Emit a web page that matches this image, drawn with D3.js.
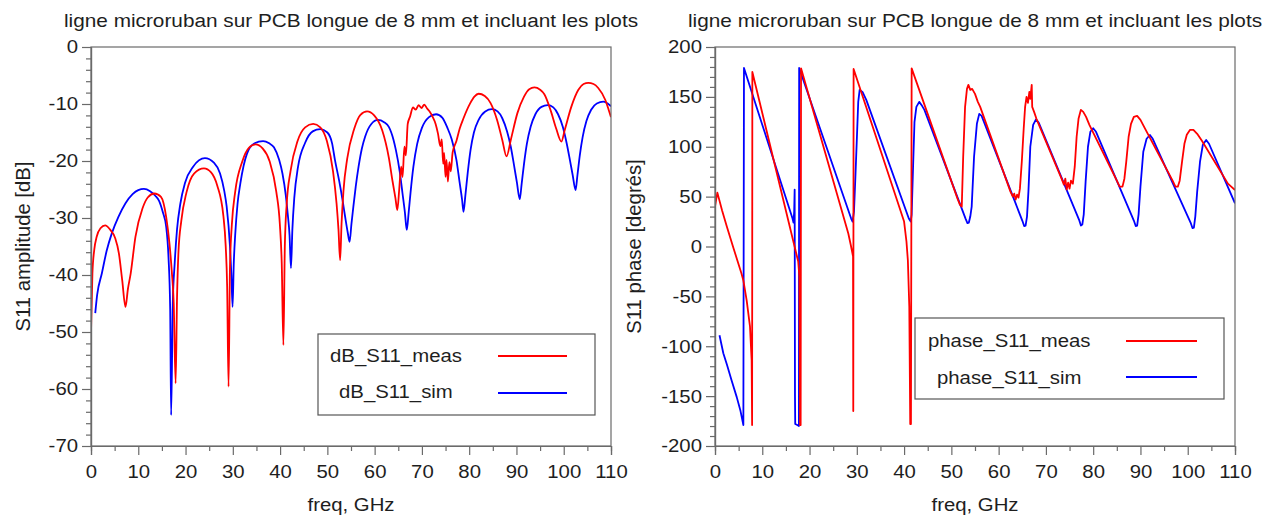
<!DOCTYPE html>
<html>
<head>
<meta charset="utf-8">
<script src="https://cdn.jsdelivr.net/npm/d3@7"></script>
<style>
  body { margin: 0; background: #fff; }
  svg { display: block; }
  text { font-family: "Liberation Sans", Arial, sans-serif; fill: #1e1e1e; }
</style>
</head>
<body>
<svg id="chart" width="1266" height="520"></svg>
<script>
// ---------------- data ----------------
const titleText = "ligne microruban sur PCB longue de 8 mm et incluant les plots";
const xLabelText = "freq, GHz";
const yLabelAmp = "S11 amplitude [dB]";
const yLabelPhase = "S11 phase [degrés]";
const legendAmp = ["dB_S11_meas", "dB_S11_sim"];
const legendPhase = ["phase_S11_meas", "phase_S11_sim"];

const freqMajor = [0, 10, 20, 30, 40, 50, 60, 70, 80, 90, 100, 110];
const freqMinor = [5, 15, 25, 35, 45, 55, 65, 75, 85, 95, 105];
const dbMajor = [0, -10, -20, -30, -40, -50, -60, -70];
const dbMinor = [-2,-4,-6,-8,-12,-14,-16,-18,-22,-24,-26,-28,-32,-34,-36,-38,-42,-44,-46,-48,-52,-54,-56,-58,-62,-64,-66,-68];
const phaseMajor = [200, 150, 100, 50, 0, -50, -100, -150, -200];
const phaseMinor = [190,180,170,160,140,130,120,110,90,80,70,60,40,30,20,10,-10,-20,-30,-40,-60,-70,-80,-90,-110,-120,-130,-140,-160,-170,-180,-190];

// [freq GHz, dB]
const dbMeas = [
  [0,-50],[0.3,-39.7],[0.7,-35.5],[1.2,-33.3],[2.0,-31.8],[3.0,-31.3],[4.0,-32.0],[5.1,-33.5],[5.9,-36.2],[6.6,-40.9],[7.3,-45.6],
  [7.8,-42.5],[8.4,-39.7],[9.4,-33.3],[10.9,-28.3],[12.0,-26.4],[13.4,-25.7],[14.8,-26.3],[15.9,-29.8],[16.6,-34.5],[17.1,-39.5],[17.5,-45],[17.9,-59],
  [18.2,-44],[18.5,-36],[19.1,-30.5],[20.2,-25.5],[21.8,-22.2],[23.9,-21.3],[25.4,-22],[26.7,-24.3],[28.0,-29.6],[28.5,-35],[28.8,-42],[29.1,-59.6],
  [29.4,-38.5],[29.8,-31.1],[30.5,-25.4],[32.0,-20.1],[33.4,-17.7],[34.8,-17.1],[36.3,-17.8],[37.8,-20.1],[39.2,-25.4],[39.95,-31.1],[40.35,-38],[40.7,-52.3],
  [41.0,-35],[41.4,-27.5],[42.2,-21.8],[43.7,-16.5],[45.3,-14.1],[47.0,-13.5],[48.5,-14.1],[49.9,-16.5],[51.2,-21.8],[51.95,-27.5],[52.35,-32],[52.7,-37.4],
  [53.0,-31],[53.4,-25.3],[54.2,-19.6],[55.7,-14.3],[57.0,-11.9],[58.4,-11.3],[59.9,-12.0],[61.6,-14.6],[63.0,-19.4],[63.8,-23.6],[64.4,-26.5],[64.8,-28.6],
  [65.2,-25],[65.6,-21],[65.9,-22.8],[66.3,-17.5],[66.6,-19],[67.0,-13.5],[67.5,-12.2],[68.1,-10.6],[68.7,-11.0],[69.3,-10.2],[69.9,-10.7],[70.5,-10.1],
  [71.1,-10.8],[71.7,-11.4],[72.3,-12.3],[72.9,-13.5],[73.4,-15.2],[73.9,-17.4],[74.2,-16.2],[74.5,-20.5],[74.7,-18.6],[75.0,-22.8],[75.2,-19.8],[75.5,-23.6],
  [75.8,-20.2],[76.1,-21.8],[76.5,-18.5],[77.3,-16.5],[78.0,-14.3],[78.8,-12.5],[80.2,-9.9],[81.1,-8.7],[82.0,-8.2],[83.3,-8.6],[84.5,-9.8],[85.9,-12.8],[87.0,-16.3],[87.9,-19.2],
  [88.8,-16.3],[90.2,-11.6],[91.6,-8.7],[92.7,-7.4],[93.8,-7.1],[95.0,-7.5],[95.9,-8.3],[97.3,-11.3],[98.4,-14.3],[99.5,-16.6],
  [100.2,-14.6],[101.6,-10.5],[103.1,-7.5],[104.2,-6.5],[105.2,-6.3],[106.3,-6.5],[107.3,-7.2],[108.8,-9.3],[109.5,-11.0],[110,-12.3]
];
const dbSim = [
  [0.9,-46.7],[1.3,-43.5],[2.3,-39.7],[3.3,-35.8],[4.4,-32.7],[5.8,-29.8],[7.3,-27.4],[8.8,-25.8],[10.0,-25.1],[11.2,-24.9],[12.5,-25.3],[13.6,-26.1],
  [14.4,-27.0],[15.2,-29],[15.9,-31.5],[16.4,-37],[16.75,-46],[16.95,-64.6],
  [17.3,-45],[17.7,-38],[18.2,-32],[18.9,-27.5],[19.9,-23.8],[21.6,-21.0],[24.1,-19.5],[26.0,-20.3],[27.3,-22.2],[28.2,-25.3],[28.7,-28],[29.4,-35],[29.7,-40],[29.95,-45.6],
  [30.2,-38],[30.5,-33],[31.0,-27.5],[31.6,-23.9],[33.0,-18.7],[34.6,-16.9],[36.4,-16.5],[37.7,-16.9],[38.7,-17.6],[39.8,-19.8],[40.5,-22.2],[41.2,-26],[41.6,-29.2],[42.0,-33],[42.3,-38.8],
  [42.6,-32],[43.0,-26.5],[43.8,-21.0],[45.3,-16.8],[46.9,-14.8],[48.5,-14.4],[50.0,-15.0],[51.0,-16.9],[51.6,-19.8],[52.5,-23.5],[53.2,-26.8],[53.8,-30],[54.3,-32.5],[54.7,-34.2],
  [55.1,-31],[55.5,-28],[56.0,-24.5],[56.6,-21],[57.3,-17.8],[58.0,-15.7],[59.3,-13.5],[60.7,-12.8],[62.0,-13.2],[63.0,-14.0],[64.0,-16.3],[64.5,-18.1],[65.3,-21.8],[65.9,-25.7],[66.4,-29],[66.8,-32.1],
  [67.2,-29],[67.6,-25.5],[68.2,-21],[69.0,-17],[70.0,-14.2],[71.5,-12.3],[73.0,-11.8],[74.3,-12.4],[75.4,-14.2],[76.3,-16.2],[77.3,-19.8],[78.0,-23.9],[78.5,-26.8],[78.8,-28.9],
  [79.2,-26],[79.7,-22],[80.3,-18],[81.0,-15],[82.0,-12.8],[83.4,-11.3],[84.8,-10.9],[86.0,-11.3],[87.0,-12.5],[88.0,-14.8],[88.8,-17.5],[89.5,-20.8],[90.1,-23.8],[90.7,-26.7],
  [91.1,-24],[91.6,-20.5],[92.2,-17],[93.0,-14],[94.0,-11.8],[95.3,-10.5],[96.6,-10.2],[97.8,-10.6],[98.8,-11.8],[99.8,-14],[100.6,-16.8],[101.3,-19.8],[101.9,-22.5],[102.5,-25.1],
  [102.9,-22.5],[103.4,-19],[104.0,-15.8],[104.8,-13],[105.8,-11],[107.0,-9.9],[108.4,-9.6],[109.3,-9.9],[110,-10.4]
];
// [freq GHz, degrees]
const phaseMeas = [
  [0,40],[0.5,54],[1.5,36],[2.5,20],[3.9,-1.5],[4.6,-12],[5.6,-27],[6.0,-34],[6.7,-54],[7.4,-80],[7.75,-114],[7.85,-179],[7.9,175],
  [17.6,-15],[17.85,-30],[18.0,-179],[18.12,-179],[18.2,178.6],
  [28.2,13],[28.7,2],[29.0,-5],[29.2,-10],[29.25,-165],[29.32,178],
  [40.0,25],[40.5,5],[40.8,-14],[41.1,-60],[41.3,-178],[41.45,-178],[41.6,178.6],
  [51.3,48],[51.8,42],[52.2,40],[52.5,90],[52.9,140],[53.3,158],[53.6,162],[54.0,157],[54.4,158],[55.0,153],[55.6,145],[56.1,140],
  [62.5,55],[63.0,50],[63.3,53],[63.6,47],[63.9,52],[64.2,49],[64.5,58],[64.9,85],[65.3,118],[65.6,140],[65.9,150],[66.2,144],[66.5,155],[66.7,148],[67.0,162],[67.1,140],[67.5,135],[68.0,128],
  [73.4,67],[73.8,62],[74.1,68],[74.4,57],[74.7,64],[75.0,58],[75.3,66],[75.7,63],[76.1,80],[76.5,110],[76.9,128],[77.4,137],[77.9,135],[78.5,130],[79.2,122],
  [85.0,66],[85.6,60],[86.2,60],[86.6,68],[87.0,85],[87.5,110],[88.0,123],[88.6,130],[89.3,131],[90.0,127],[91.0,118],
  [96.8,66],[97.4,60],[97.9,60],[98.3,66],[98.8,85],[99.3,103],[99.8,112],[100.5,117],[101.2,117],[102.0,113],[103.0,106],
  [108.5,63],[109.2,60],[110,56.6]
];
const phaseSim = [
  [0.95,-89],[1.76,-107],[2.5,-118],[3.5,-134],[4.6,-151],[5.4,-165],[6.0,-179],[6.13,179],
  [16.4,28],[16.6,24],[16.75,35],[16.85,57],[16.92,-150],[16.97,-178],[17.4,-179],[17.75,-180],[17.8,179],
  [28.8,28],[29.1,25],[29.4,35],[29.7,70],[30.0,107],[30.3,145],[30.6,157],[31.2,155],[32.0,147],
  [41.0,28],[41.4,25],[41.6,32],[41.9,80],[42.2,125],[42.6,140],[43.2,145],[43.8,141],[44.3,137],
  [53.0,28],[53.4,23.5],[53.7,24],[54.0,30],[54.3,40],[54.8,90],[55.4,123],[55.9,133],[56.4,131],
  [65.0,26],[65.4,20.5],[65.7,21],[66.0,30],[66.3,55],[66.7,100],[67.3,122],[67.9,127.5],[68.5,124],
  [77.0,27],[77.4,21],[77.7,22],[78.0,32],[78.4,65],[78.9,100],[79.4,115],[80.0,118.5],[80.6,115],
  [88.6,26],[89.0,20.5],[89.3,21],[89.6,32],[90.0,60],[90.6,95],[91.3,108],[92.0,111.8],[92.6,108],
  [100.6,24],[101.0,18.5],[101.3,19],[101.6,30],[102.0,55],[102.6,85],[103.2,102],[103.9,106.8],[104.5,103],
  [110,43.3]
];

// ---------------- drawing ----------------
const svg = d3.select("#chart");
const FS = 18.5, SX = 1.1;
const measColor = "#ff0000", simColor = "#0000ff";

function stretchTicks(sel) {
  sel.selectAll(".tick text").each(function () {
    const t = d3.select(this);
    const x = +t.attr("x") || 0, y = +t.attr("y") || 0;
    t.attr("x", 0).attr("y", 0)
     .attr("transform", `translate(${x},${y}) scale(${SX},1)`);
  });
}

function addText(g, x, y, str, opts = {}) {
  return g.append("text")
    .attr("transform", `translate(${x},${y})${opts.rotate ? " rotate(" + opts.rotate + ")" : ""} scale(${opts.sx || SX},1)`)
    .attr("text-anchor", opts.anchor || "start")
    .style("font-size", (opts.size || FS) + "px")
    .text(str);
}

function panel(cfg) {
  const x = d3.scaleLinear().domain([0, 110]).range([cfg.left, cfg.right]);
  const y = d3.scaleLinear().domain(cfg.yDomain).range([cfg.bottom, cfg.top]);
  const g = svg.append("g");

  const clipId = "clip" + cfg.id;
  g.append("clipPath").attr("id", clipId).append("rect")
    .attr("x", cfg.left).attr("y", cfg.top)
    .attr("width", cfg.right - cfg.left).attr("height", cfg.bottom - cfg.top);

  // series
  const line = d3.line().x(d => x(d[0])).y(d => y(d[1])).curve(cfg.curve);
  const lg = g.append("g").attr("clip-path", `url(#${clipId})`);
  lg.append("path").datum(cfg.sim).attr("d", line)
    .attr("fill", "none").attr("stroke", simColor).attr("stroke-width", 1.8).attr("stroke-linejoin", "round");
  lg.append("path").datum(cfg.meas).attr("d", line)
    .attr("fill", "none").attr("stroke", measColor).attr("stroke-width", 1.8).attr("stroke-linejoin", "round");

  // frame
  g.append("rect").attr("x", cfg.left).attr("y", cfg.top)
    .attr("width", cfg.right - cfg.left).attr("height", cfg.bottom - cfg.top)
    .attr("fill", "none").attr("stroke", "#6a6a6a").attr("stroke-width", 1.2);

  const axStyle = s => {
    s.select(".domain").attr("stroke", "#6a6a6a").attr("stroke-width", 1.2);
    s.selectAll(".tick line").attr("stroke", "#6a6a6a").attr("stroke-width", 1.2);
    s.selectAll(".tick text").style("font-size", FS + "px").attr("fill", "#1e1e1e").style("font-family", "'Liberation Sans', Arial, sans-serif");
  };
  // x axis
  g.append("g").attr("transform", `translate(0,${cfg.bottom})`)
    .call(d3.axisBottom(x).tickValues(freqMinor).tickSize(5).tickFormat(""))
    .call(axStyle);
  const gx = g.append("g").attr("transform", `translate(0,${cfg.bottom})`)
    .call(d3.axisBottom(x).tickValues(freqMajor).tickSize(9).tickPadding(10).tickFormat(d => String(d)))
    .call(axStyle);
  stretchTicks(gx);

  // y axis
  g.append("g").attr("transform", `translate(${cfg.left},0)`)
    .call(d3.axisLeft(y).tickValues(cfg.yMinor).tickSize(5).tickFormat(""))
    .call(axStyle);
  const gy = g.append("g").attr("transform", `translate(${cfg.left},0)`)
    .call(d3.axisLeft(y).tickValues(cfg.yMajor).tickSize(9).tickPadding(4).tickFormat(d => String(d)))
    .call(axStyle);
  stretchTicks(gy);

  // title & labels
  const cx = (cfg.left + cfg.right) / 2;
  addText(g, cx, 27, titleText, { anchor: "middle", size: 18.9 });
  addText(g, cx, 511, xLabelText, { anchor: "middle" });
  addText(g, cfg.yLabelX, (cfg.top + cfg.bottom) / 2, cfg.yLabel, { anchor: "middle", rotate: -90, size: 20.3, sx: 1 });

  // legend
  const L = cfg.legend;
  g.append("rect").attr("x", L.x).attr("y", L.y).attr("width", L.w).attr("height", L.h)
    .attr("fill", "#fff").attr("stroke", "#555").attr("stroke-width", 1.2);
  L.rows.forEach((r, i) => {
    addText(g, r.tx, r.ty, cfg.legendNames[i]);
    g.append("line").attr("x1", L.lx1).attr("x2", L.lx2).attr("y1", r.ly).attr("y2", r.ly)
      .attr("stroke", i === 0 ? measColor : simColor).attr("stroke-width", L.lw);
  });
}

panel({
  id: "A", left: 91, right: 611, top: 47, bottom: 446,
  yDomain: [-70, 0], yMajor: dbMajor, yMinor: dbMinor, curve: d3.curveMonotoneX,
  meas: dbMeas, sim: dbSim, yLabel: yLabelAmp, yLabelX: 30,
  legendNames: legendAmp,
  legend: { x: 318, y: 334, w: 277, h: 81, lx1: 498, lx2: 567, lw: 1.8,
            rows: [{ tx: 330, ty: 362, ly: 356 }, { tx: 339, ty: 398, ly: 393 }] }
});
panel({
  id: "B", left: 715, right: 1235, top: 47, bottom: 446,
  yDomain: [-200, 200], yMajor: phaseMajor, yMinor: phaseMinor, curve: d3.curveLinear,
  meas: phaseMeas, sim: phaseSim, yLabel: yLabelPhase, yLabelX: 641,
  legendNames: legendPhase,
  legend: { x: 915, y: 318, w: 309, h: 81, lx1: 1126, lx2: 1197, lw: 2.2,
            rows: [{ tx: 928, ty: 347, ly: 341 }, { tx: 937, ty: 384, ly: 377 }] }
});
</script>
</body>
</html>
